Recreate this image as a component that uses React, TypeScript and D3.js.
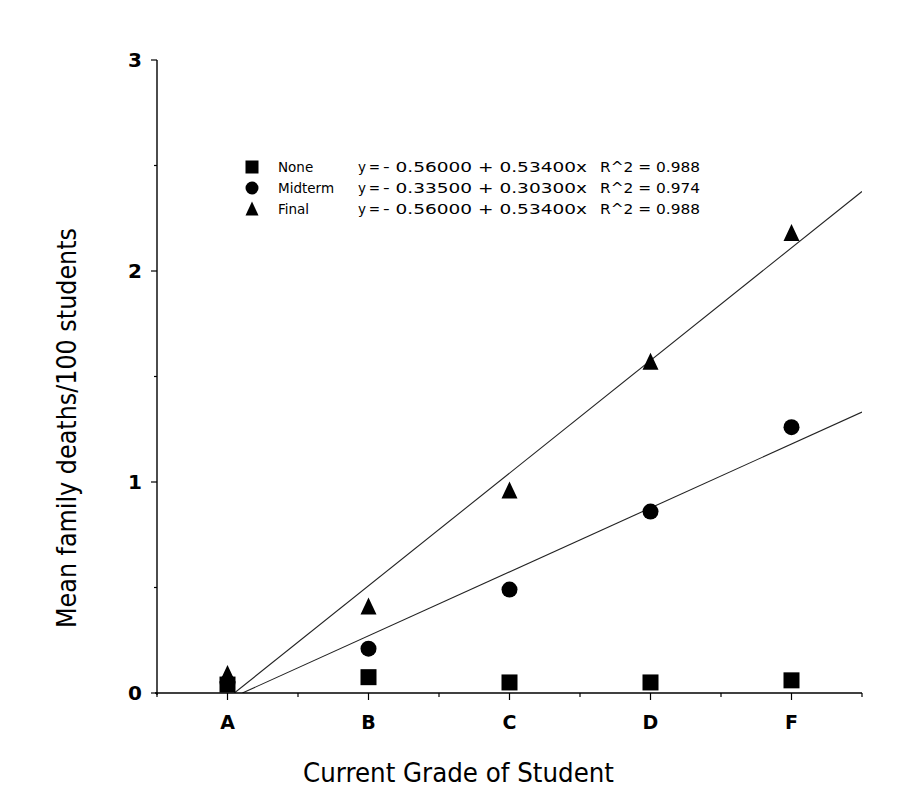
import React from "react";
import * as d3 from "d3";

const grades = ["A", "B", "C", "D", "F"];
const noneValues = [0.04, 0.075, 0.05, 0.05, 0.06];
const midtermValues = [0.05, 0.21, 0.49, 0.86, 1.26];
const finalValues = [0.09, 0.41, 0.96, 1.57, 2.18];
const fits = [
  { name: "Midterm", intercept: -0.335, slope: 0.303 },
  { name: "Final", intercept: -0.56, slope: 0.534 },
];
const legendRows = [
  { name: "None", shape: "square", eq: "- 0.56000 + 0.53400x", r2: "R^2 = 0.988" },
  { name: "Midterm", shape: "circle", eq: "- 0.33500 + 0.30300x", r2: "R^2 = 0.974" },
  { name: "Final", shape: "triangle", eq: "- 0.56000 + 0.53400x", r2: "R^2 = 0.988" },
];
const yTicks = [0, 1, 2, 3];
const yMinor = [0.5, 1.5, 2.5];

const W = 921, H = 812;
const L = 157, R = 862, T = 60, B = 693;

function Marker({ shape, cx, cy, s }: { shape: string; cx: number; cy: number; s: number }) {
  if (shape === "square") return <rect x={cx - s / 2} y={cy - s / 2} width={s} height={s} fill="#000" />;
  if (shape === "circle") return <circle cx={cx} cy={cy} r={s / 2} fill="#000" />;
  const p = d3.path();
  p.moveTo(cx, cy - s / 2 - 1);
  p.lineTo(cx + s / 2, cy + s / 2);
  p.lineTo(cx - s / 2, cy + s / 2);
  p.closePath();
  return <path d={p.toString()} fill="#000" />;
}

export default function App() {
  const x = d3.scaleLinear().domain([0.5, 5.5]).range([L, R]);
  const y = d3.scaleLinear().domain([0, 3]).range([B, T]);
  const xMinor = d3.range(0, grades.length + 1).map((i) => i + 0.5);
  const font = "'DejaVu Sans', Verdana, sans-serif";

  const series = [
    { shape: "square", values: noneValues },
    { shape: "circle", values: midtermValues },
    { shape: "triangle", values: finalValues },
  ];

  return (
    <svg width={W} height={H} style={{ position: "absolute", left: 0, top: 0, background: "#fff" }}>
      <defs>
        <clipPath id="plot">
          <rect x={L} y={T} width={R - L} height={B - T} />
        </clipPath>
      </defs>
      {/* fit lines */}
      <g clipPath="url(#plot)">
        {fits.map((f) => {
          const x0 = -f.intercept / f.slope;
          const line = d3.line<number>().x((v) => x(v)).y((v) => y(f.intercept + f.slope * v));
          return <path key={f.name} d={line([x0, 5.5]) || ""} stroke="#222" strokeWidth={1.1} fill="none" />;
        })}
      </g>
      {/* axes */}
      <line x1={L} x2={L} y1={T} y2={B + 2} stroke="#000" strokeWidth={1.4} />
      <line x1={L - 2} x2={R} y1={B} y2={B} stroke="#000" strokeWidth={1.4} />
      {yTicks.map((t) => (
        <g key={t}>
          <line x1={L - 6} x2={L} y1={y(t)} y2={y(t)} stroke="#000" strokeWidth={1.2} />
          <text x={142} y={y(t)} dy="0.36em" textAnchor="end" fontFamily={font} fontWeight="bold" fontSize={20}>{t}</text>
        </g>
      ))}
      {yMinor.map((t) => (
        <line key={t} x1={L - 3} x2={L} y1={y(t)} y2={y(t)} stroke="#000" strokeWidth={1.2} />
      ))}
      {grades.map((g, i) => (
        <g key={g}>
          <line x1={x(i + 1)} x2={x(i + 1)} y1={B} y2={B + 7} stroke="#000" strokeWidth={1.2} />
          <text x={x(i + 1)} y={729} textAnchor="middle" fontFamily={font} fontWeight="bold" fontSize={19}>{g}</text>
        </g>
      ))}
      {xMinor.map((t) => (
        <line key={t} x1={x(t)} x2={x(t)} y1={B} y2={B + 4} stroke="#000" strokeWidth={1.2} />
      ))}
      {/* points */}
      {series.map((s) =>
        s.values.map((v, i) => (
          <Marker key={s.shape + i} shape={s.shape} cx={x(i + 1)} cy={y(v)} s={16} />
        ))
      )}
      {/* legend */}
      {legendRows.map((r, i) => {
        const cy = 167 + i * 21;
        return (
          <g key={r.name} fontFamily={font} fontSize={13.5}>
            <Marker shape={r.shape} cx={252} cy={cy} s={13} />
            <text x={278} y={cy} dy="0.35em">{r.name}</text>
            <text x={358} y={cy} dy="0.35em">y</text>
            <text x={374.5} y={cy} dy="0.35em" textAnchor="middle">=</text>
            <text x={383} y={cy} dy="0.35em" textLength={204} lengthAdjust="spacingAndGlyphs">{r.eq}</text>
            <text x={600} y={cy} dy="0.35em" textLength={100} lengthAdjust="spacingAndGlyphs">{r.r2}</text>
          </g>
        );
      })}
      {/* titles */}
      <text x={303} y={782} fontFamily={font} fontSize={26} textLength={311} lengthAdjust="spacingAndGlyphs">Current Grade of Student</text>
      <text transform={`translate(76, 628) rotate(-90)`} fontFamily={font} fontSize={26} textLength={400} lengthAdjust="spacingAndGlyphs">Mean family deaths/100 students</text>
    </svg>
  );
}
